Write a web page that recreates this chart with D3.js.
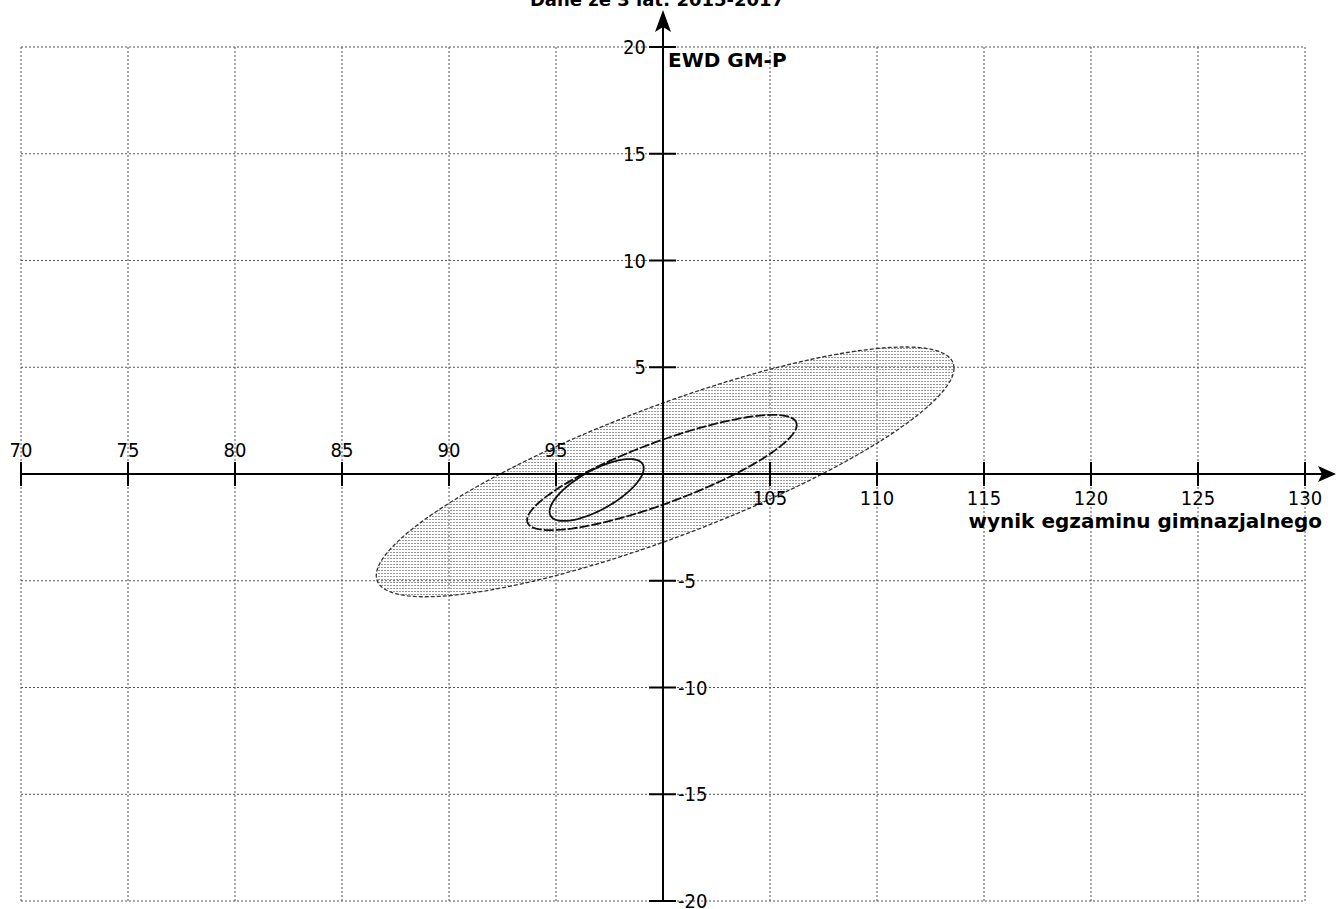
<!DOCTYPE html>
<html>
<head>
<meta charset="utf-8">
<script src="https://cdn.jsdelivr.net/npm/d3@7"></script>
<style>
  body { margin: 0; background: white; }
  svg { display: block; }
  text { font-family: "DejaVu Sans", sans-serif; }
</style>
</head>
<body>
<div id="container"></div>
<script>
let w = 1336;
let h = 909;

// ticks
let xTicks = [70, 75, 80, 85, 90, 95, 100, 105, 110, 115, 120, 125, 130];
let yTicks = [-20, -15, -10, -5, 0, 5, 10, 15, 20];
let xLabelsAbove = [70, 75, 80, 85, 90, 95];
let xLabelsBelow = [105, 110, 115, 120, 125, 130];
let yLabelsLeft = [5, 10, 15, 20];
let yLabelsRight = [-5, -10, -15, -20];

// confidence ellipses: outer, middle, inner
let ellipseCx = [100.1, 99.95, 96.9];
let ellipseCy = [0.1, 0.07, -0.75];
let ellipseHalfX = [13.5, 6.3, 2.2];
let ellipseHalfY = [5.85, 2.7, 1.45];
let ellipseCorr = [0.83, 0.825, 0.7];

let titleText = "Dane ze 3 lat: 2015-2017";
let xTitle = "wynik egzaminu gimnazjalnego";
let yTitle = "EWD GM-P";

///////////////////////////

let viz = d3.select("#container").append("svg")
    .attr("width", w)
    .attr("height", h)
    .style("background-color", "white")
;

let xScale = d3.scaleLinear().domain([70, 130]).range([21, 1305]);
let yScale = d3.scaleLinear().domain([-20, 20]).range([901, 47]);

let x0 = xScale(100);
let y0 = yScale(0);

let tickFont = "'DejaVu Sans Condensed', 'DejaVu Sans', sans-serif";

// stipple fill
let defs = viz.append("defs");
let pat = defs.append("pattern")
    .attr("id", "stipple")
    .attr("patternUnits", "userSpaceOnUse")
    .attr("width", 3)
    .attr("height", 3);
pat.append("rect")
    .attr("x", 0).attr("y", 0)
    .attr("width", 2).attr("height", 1)
    .attr("fill", "#999");

// grid
viz.append("g").selectAll("line").data(xTicks.filter(d => d !== 100))
  .enter().append("line")
    .attr("x1", d => xScale(d)).attr("x2", d => xScale(d))
    .attr("y1", yScale(20)).attr("y2", yScale(-20))
    .attr("stroke", "#555")
    .attr("stroke-width", 1)
    .attr("stroke-dasharray", "2,2")
;
viz.append("g").selectAll("line").data(yTicks.filter(d => d !== 0))
  .enter().append("line")
    .attr("y1", d => yScale(d)).attr("y2", d => yScale(d))
    .attr("x1", xScale(70)).attr("x2", xScale(130))
    .attr("stroke", "#555")
    .attr("stroke-width", 1)
    .attr("stroke-dasharray", "2,2")
;

// ellipses
function ellipsePath(i){
  let hx = ellipseHalfX[i], hy = ellipseHalfY[i], r = ellipseCorr[i];
  let pts = d3.range(0, 361, 3).map(function(deg){
    let t = deg * Math.PI / 180;
    let dx = hx * Math.cos(t);
    let dy = r * hy * Math.cos(t) + hy * Math.sqrt(1 - r * r) * Math.sin(t);
    return [xScale(ellipseCx[i] + dx), yScale(ellipseCy[i] + dy)];
  });
  return d3.line().curve(d3.curveLinearClosed)(pts);
}

viz.append("path")
    .attr("d", ellipsePath(0))
    .attr("fill", "url(#stipple)")
    .attr("stroke", "#333")
    .attr("stroke-width", 1.3)
    .attr("stroke-dasharray", "4,2")
;
viz.append("path")
    .attr("d", ellipsePath(1))
    .attr("fill", "none")
    .attr("stroke", "#111")
    .attr("stroke-width", 1.8)
    .attr("stroke-dasharray", "10,2")
;
viz.append("path")
    .attr("d", ellipsePath(2))
    .attr("fill", "none")
    .attr("stroke", "#111")
    .attr("stroke-width", 1.8)
;

// axes
viz.append("line")
    .attr("x1", xScale(70)).attr("x2", 1330)
    .attr("y1", y0).attr("y2", y0)
    .attr("stroke", "black").attr("stroke-width", 2);
viz.append("path")
    .attr("d", "M1336," + y0 + "L1318," + (y0 - 8) + "L1322," + y0 + "L1318," + (y0 + 8) + "Z")
    .attr("fill", "black");

viz.append("line")
    .attr("x1", x0).attr("x2", x0)
    .attr("y1", yScale(-20)).attr("y2", 16)
    .attr("stroke", "black").attr("stroke-width", 2);
viz.append("path")
    .attr("d", "M" + x0 + ",10L" + (x0 - 8) + ",32L" + x0 + ",27L" + (x0 + 8) + ",32Z")
    .attr("fill", "black");

// x ticks
viz.append("g").selectAll("line").data(xTicks.filter(d => d !== 100))
  .enter().append("line")
    .attr("x1", d => xScale(d)).attr("x2", d => xScale(d))
    .attr("y1", y0 - 12).attr("y2", y0 + 12)
    .attr("stroke", "black").attr("stroke-width", 2);

// y ticks
viz.append("g").selectAll("line").data(yTicks.filter(d => d !== 0))
  .enter().append("line")
    .attr("y1", d => yScale(d)).attr("y2", d => yScale(d))
    .attr("x1", x0 - 14).attr("x2", x0 + 13)
    .attr("stroke", "black").attr("stroke-width", 2);

// tick labels
viz.append("g").selectAll("text").data(xLabelsAbove)
  .enter().append("text")
    .attr("x", d => xScale(d))
    .attr("y", y0 - 17)
    .attr("text-anchor", "middle")
    .style("font-size", "20px")
    .style("font-family", tickFont)
    .text(d => d);
viz.append("g").selectAll("text").data(xLabelsBelow)
  .enter().append("text")
    .attr("x", d => xScale(d))
    .attr("y", y0 + 31)
    .attr("text-anchor", "middle")
    .style("font-size", "20px")
    .style("font-family", tickFont)
    .text(d => d);
viz.append("g").selectAll("text").data(yLabelsLeft)
  .enter().append("text")
    .attr("x", x0 - 17)
    .attr("y", d => yScale(d) + 7)
    .attr("text-anchor", "end")
    .style("font-size", "20px")
    .style("font-family", tickFont)
    .text(d => d);
viz.append("g").selectAll("text").data(yLabelsRight)
  .enter().append("text")
    .attr("x", x0 + 15)
    .attr("y", d => yScale(d) + 7)
    .attr("text-anchor", "start")
    .style("font-size", "20px")
    .style("font-family", tickFont)
    .text(d => d);

// titles
viz.append("text")
    .attr("x", 1322).attr("y", y0 + 54)
    .attr("text-anchor", "end")
    .style("font-size", "20px").style("font-weight", "bold")
    .text(xTitle);
viz.append("text")
    .attr("x", x0 + 5).attr("y", 67)
    .style("font-size", "20px").style("font-weight", "bold")
    .text(yTitle);
viz.append("text")
    .attr("x", 657).attr("y", 6)
    .attr("text-anchor", "middle")
    .style("font-size", "18px").style("font-weight", "bold")
    .text(titleText);
</script>
</body>
</html>
